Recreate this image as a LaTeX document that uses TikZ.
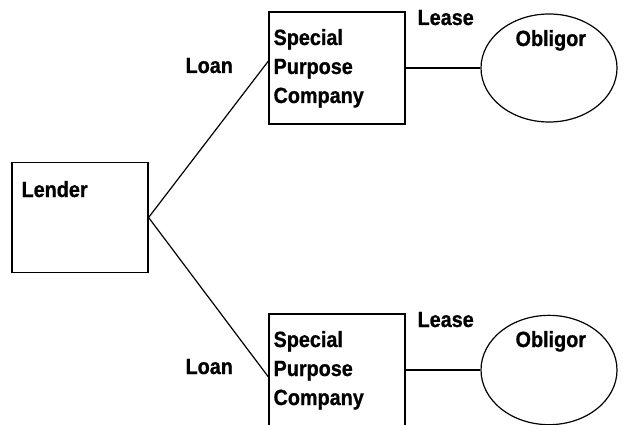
\documentclass[tikz,border=0pt]{standalone}
\usepackage{fontspec}
\setmainfont{Liberation Sans}[FakeStretch=0.9, BoldFeatures={FakeBold=0.9}]
\usetikzlibrary{shapes.geometric}

\tikzset{every picture/.style={line width=0.9pt}}
\tikzset{
  party/.style={draw, rectangle, minimum width=102pt, minimum height=84pt, inner sep=0pt},
  obligor/.style={draw, ellipse, minimum width=102pt, minimum height=81pt, inner sep=0pt},
  lbl/.style={font=\fontsize{16.5}{21.75}\selectfont\bfseries, inner sep=0pt, anchor=base west}
}

\begin{document}
\begin{tikzpicture}[x=0.75pt,y=0.75pt,yscale=-1,xscale=1]
\useasboundingbox (0,0) rectangle (623,424);

%Shape: Rectangle [lender]
\node [party, minimum height=83pt] (lender) at (80,217.5) {};
%Shape: Rectangle [upper company]
\node [party] (spcA) at (337,68) {};
%Shape: Rectangle [lower company, runs off the bottom]
\node [party] (spcB) at (337,370) {};
%Shape: Ellipse [upper obligor]
\node [obligor] (oblA) at (549,68) {};
%Shape: Ellipse [lower obligor]
\node [obligor, minimum height=82pt] (oblB) at (549,370) {};

%Straight Lines [loans]
\draw (lender.east) -- ([yshift=-5.25pt]spcA.west);
\draw (lender.east) -- ([yshift=5.25pt]spcB.west);
%Straight Lines [leases]
\draw (spcA.east) -- (oblA.west);
\draw (spcB.east) -- (oblB.west);

% Text Node
\node [lbl] (lenderTxt) at (21,197) {Lender};
% Text Node
\node [lbl] (loanA) at (185,73) {Loan};
% Text Node
\node [lbl] (loanB) at (185,374) {Loan};
% Text Node (base anchor sits on the last line)
\node [lbl, align=left] (spcATxt) at (273,103) {Special\\Purpose\\Company};
% Text Node
\node [lbl, align=left] (spcBTxt) at (273,405) {Special\\Purpose\\Company};
% Text Node
\node [lbl] (leaseA) at (417,25) {Lease};
% Text Node
\node [lbl] (leaseB) at (417,327) {Lease};
% Text Node
\node [lbl] (oblATxt) at (515,46) {Obligor};
% Text Node
\node [lbl] (oblBTxt) at (515,347) {Obligor};

\end{tikzpicture}
\end{document}
